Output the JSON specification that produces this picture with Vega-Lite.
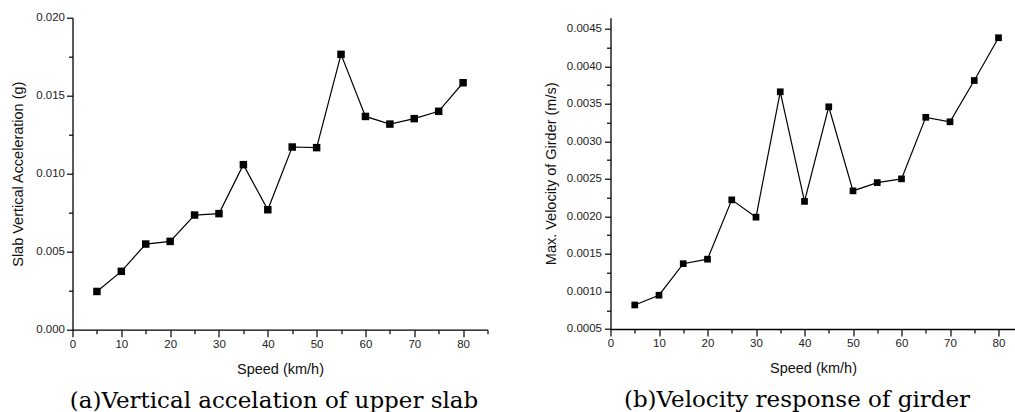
{
  "$schema": "https://vega.github.io/schema/vega-lite/v6.json",
  "background": "white",
  "padding": {"left": 10.5, "top": 11.7, "right": 0, "bottom": 0},
  "config": {
    "view": {"stroke": null},
    "axis": {
      "grid": false,
      "domainColor": "#000",
      "domainWidth": 1.3,
      "tickColor": "#000",
      "tickWidth": 1.2,
      "labelFont": "Liberation Sans",
      "labelFontSize": 11.5,
      "labelColor": "#222",
      "titleFont": "Liberation Sans",
      "titleFontSize": 14.5,
      "titleFontWeight": "normal",
      "titleColor": "#111"
    },
    "concat": {"spacing": 54}
  },
  "hconcat": [
    {
      "width": 415,
      "height": 312,
      "title": {"text": "(a)Vertical accelation of upper slab", "orient": "bottom", "anchor": "middle", "frame": "group", "font": "DejaVu Serif", "fontSize": 23, "fontWeight": "normal", "color": "#000", "offset": 14, "dx": -6},
      "data": {"values": [
        {"speed": 5, "acc": 0.00245},
        {"speed": 10, "acc": 0.00374},
        {"speed": 15, "acc": 0.00549},
        {"speed": 20, "acc": 0.00566},
        {"speed": 25, "acc": 0.00735},
        {"speed": 30, "acc": 0.00744},
        {"speed": 35, "acc": 0.01058},
        {"speed": 40, "acc": 0.00769},
        {"speed": 45, "acc": 0.01171},
        {"speed": 50, "acc": 0.01167},
        {"speed": 55, "acc": 0.01765},
        {"speed": 60, "acc": 0.01367},
        {"speed": 65, "acc": 0.01318},
        {"speed": 70, "acc": 0.01353},
        {"speed": 75, "acc": 0.01400},
        {"speed": 80, "acc": 0.01583}
      ]},
      "encoding": {
        "x": {"field": "speed", "type": "quantitative",
          "scale": {"domain": [0, 85], "nice": false, "zero": false},
          "axis": {"title": "Speed (km/h)", "values": [0,5,10,15,20,25,30,35,40,45,50,55,60,65,70,75,80,85],
            "labelExpr": "datum.value % 10 === 0 ? datum.label : ''",
            "tickSize": {"condition": {"test": "datum.value % 10 === 0", "value": 7}, "value": 4},
            "labelPadding": 2, "titlePadding": 12, "labelFlush": false}},
        "y": {"field": "acc", "type": "quantitative",
          "scale": {"domain": [0, 0.02], "nice": false},
          "axis": {"title": "Slab Vertical Acceleration (g)",
            "values": [0,0.0025,0.005,0.0075,0.01,0.0125,0.015,0.0175,0.02],
            "format": ".3f",
            "labelExpr": "abs(datum.value*200 - round(datum.value*200)) < 1e-6 ? datum.label : ''",
            "tickSize": {"condition": {"test": "abs(datum.value*200 - round(datum.value*200)) < 1e-6", "value": 6}, "value": 4},
            "labelPadding": 2, "titlePadding": 10, "labelFlush": false}}
      },
      "layer": [
        {"mark": {"type": "line", "color": "#000", "strokeWidth": 1.2}},
        {"mark": {"type": "point", "shape": "square", "filled": true, "color": "#000", "opacity": 1, "size": 56}}
      ]
    },
    {
      "width": 405,
      "height": 311.3,
      "title": {"text": "(b)Velocity response of girder", "orient": "bottom", "anchor": "middle", "frame": "group", "font": "DejaVu Serif", "fontSize": 23, "fontWeight": "normal", "color": "#000", "offset": 14, "dx": -16},
      "data": {"values": [
        {"speed": 5, "vel": 0.00082},
        {"speed": 10, "vel": 0.00095},
        {"speed": 15, "vel": 0.00137},
        {"speed": 20, "vel": 0.00143},
        {"speed": 25, "vel": 0.00222},
        {"speed": 30, "vel": 0.00199},
        {"speed": 35, "vel": 0.00366},
        {"speed": 40, "vel": 0.00220},
        {"speed": 45, "vel": 0.00346},
        {"speed": 50, "vel": 0.00234},
        {"speed": 55, "vel": 0.00245},
        {"speed": 60, "vel": 0.00250},
        {"speed": 65, "vel": 0.00332},
        {"speed": 70, "vel": 0.00326},
        {"speed": 75, "vel": 0.00381},
        {"speed": 80, "vel": 0.00438}
      ]},
      "encoding": {
        "x": {"field": "speed", "type": "quantitative",
          "scale": {"domain": [0, 83.5], "nice": false, "zero": false},
          "axis": {"title": "Speed (km/h)", "values": [0,5,10,15,20,25,30,35,40,45,50,55,60,65,70,75,80],
            "labelExpr": "datum.value % 10 === 0 ? datum.label : ''",
            "tickSize": {"condition": {"test": "datum.value % 10 === 0", "value": 7}, "value": 4},
            "labelPadding": 2, "titlePadding": 12, "labelFlush": false}},
        "y": {"field": "vel", "type": "quantitative",
          "scale": {"domain": [0.0005, 0.004647], "nice": false, "zero": false},
          "axis": {"title": "Max. Velocity of Girder (m/s)",
            "values": [0.0005,0.00075,0.001,0.00125,0.0015,0.00175,0.002,0.00225,0.0025,0.00275,0.003,0.00325,0.0035,0.00375,0.004,0.00425,0.0045],
            "format": ".4f",
            "labelExpr": "abs(datum.value*2000 - round(datum.value*2000)) < 1e-6 ? datum.label : ''",
            "tickSize": {"condition": {"test": "abs(datum.value*2000 - round(datum.value*2000)) < 1e-6", "value": 6}, "value": 4},
            "labelPadding": 3, "titlePadding": 8, "labelFlush": false}}
      },
      "layer": [
        {"mark": {"type": "line", "color": "#000", "strokeWidth": 1.2}},
        {"mark": {"type": "point", "shape": "square", "filled": true, "color": "#000", "opacity": 1, "size": 45}}
      ]
    }
  ]
}
